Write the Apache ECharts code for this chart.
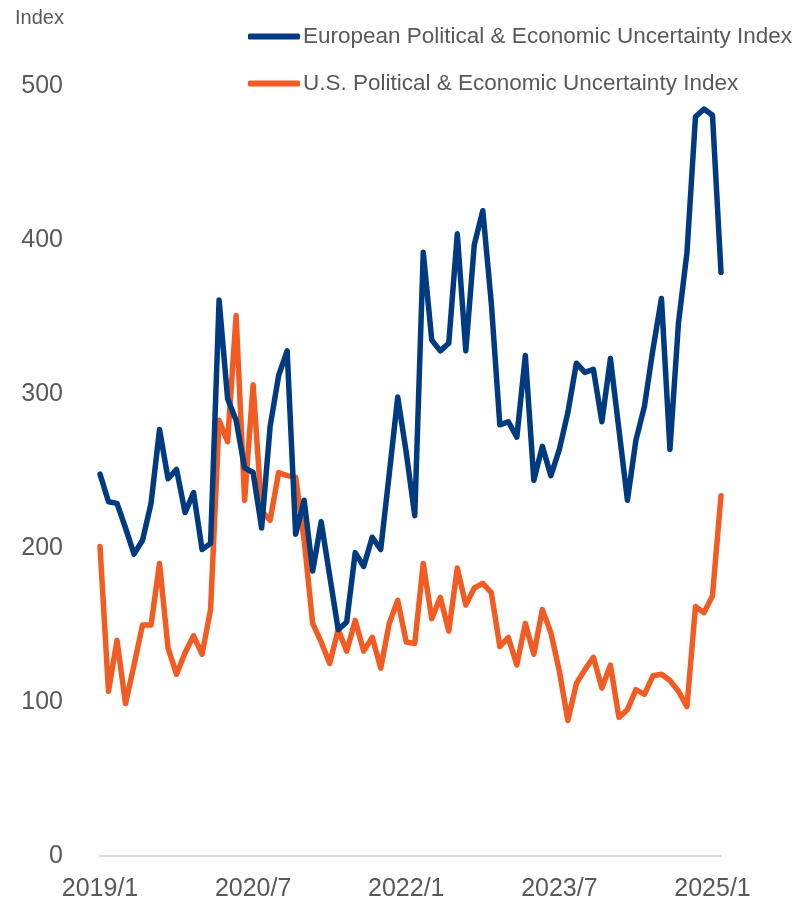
<!DOCTYPE html>
<html>
<head>
<meta charset="utf-8">
<script src="https://cdn.jsdelivr.net/npm/echarts@6/dist/echarts.min.js"></script>
<style>
  html, body { margin: 0; padding: 0; background: #ffffff; }
  #chart { width: 801px; height: 903px; }
</style>
</head>
<body>
<div id="chart"></div>
<script>
// Monthly observations, 2019/1 through 2025/2
const months = [];
for (let y = 2019; y <= 2025; y++) {
  for (let m = 1; m <= 12; m++) {
    if (y === 2025 && m > 2) break;
    months.push(y + '/' + m);
  }
}

const europeIndex = [
  248, 230, 229, 213, 196, 205, 229, 277, 245, 251, 223, 236,
  199, 203, 361, 297, 283, 252, 249, 213, 279, 312, 328, 209,
  231, 185, 217, 182, 147, 152, 197, 188, 207, 199, 248, 298,
  262, 221, 392, 335, 328, 333, 404, 328, 397, 419, 359, 280,
  282, 272, 325, 244, 266, 247, 264, 288, 320, 314, 316, 282,
  323, 277, 231, 270, 292, 329, 362, 264, 346, 392, 480, 485,
  481, 379
];

const usIndex = [
  201, 107, 140,  99, 124, 150, 150, 190, 135, 118, 132, 143,
  131, 160, 283, 269, 351, 231, 306, 224, 218, 249, 247, 246,
  205, 151, 139, 125, 147, 133, 153, 133, 142, 122, 151, 166,
  139, 138, 190, 154, 168, 146, 187, 163, 174, 177, 171, 136,
  142, 124, 151, 131, 160, 145, 120,  88, 112, 121, 129, 109,
  124,  90,  95, 108, 105, 117, 118, 114, 107,  97, 162, 158,
  169, 234
];

const seriesNames = [
  'European Political & Economic Uncertainty Index',
  'U.S. Political & Economic Uncertainty Index'
];
const yTicks = { min: 0, max: 500, interval: 100 };

const BLUE = '#003A80';
const ORANGE = '#F25C22';
const TEXT = '#595959';
const FONT = '"Liberation Sans", Arial, sans-serif';

const chart = echarts.init(document.getElementById('chart'), null, { renderer: 'canvas' });

chart.setOption({
  animation: false,
  backgroundColor: '#ffffff',
  textStyle: { fontFamily: FONT },
  graphic: [{
    type: 'text',
    left: 15,
    top: 8,
    style: { text: 'Index', fontSize: 20, fill: TEXT, fontFamily: FONT }
  }],
  legend: {
    orient: 'vertical',
    left: 248,
    top: 25,
    padding: 0,
    itemGap: 24,
    itemWidth: 52,
    itemHeight: 6,
    icon: 'roundRect',
    textStyle: { fontSize: 22.5, color: TEXT, fontFamily: FONT, padding: [0, 0, 0, -2] },
    data: seriesNames
  },
  grid: { left: 100, right: 80, top: 86, bottom: 47, containLabel: false },
  xAxis: {
    type: 'category',
    data: months,
    boundaryGap: false,
    axisLine: { show: true, lineStyle: { color: '#D9D9D9', width: 2 } },
    axisTick: { show: false },
    axisLabel: {
      interval: 17,
      color: TEXT,
      fontSize: 25,
      fontFamily: FONT,
      margin: 21
    },
    splitLine: { show: false }
  },
  yAxis: {
    type: 'value',
    min: yTicks.min,
    max: yTicks.max,
    interval: yTicks.interval,
    axisLine: { show: false },
    axisTick: { show: false },
    splitLine: { show: false },
    axisLabel: { color: TEXT, fontSize: 25, fontFamily: FONT, margin: 37 }
  },
  series: [
    {
      name: seriesNames[0],
      type: 'line',
      data: europeIndex,
      symbol: 'none',
      color: BLUE,
      lineStyle: { color: BLUE, width: 5.5, cap: 'round', join: 'round' },
      z: 3
    },
    {
      name: seriesNames[1],
      type: 'line',
      data: usIndex,
      symbol: 'none',
      color: ORANGE,
      lineStyle: { color: ORANGE, width: 5.5, cap: 'round', join: 'round' },
      z: 2
    }
  ]
});
</script>
</body>
</html>
